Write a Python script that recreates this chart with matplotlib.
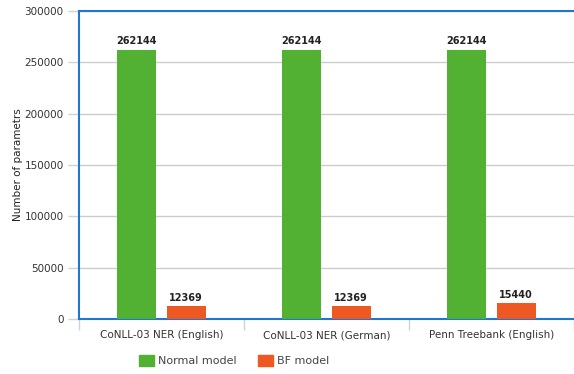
import numpy as np
import matplotlib.pyplot as plt
from matplotlib.patches import Patch

datasets = ["CoNLL-03 NER (English)", "CoNLL-03 NER (German)", "Penn Treebank (English)"]
normal_model = [262144, 262144, 262144]
bf_model = [12369, 12369, 15440]
yticks = [0, 50000, 100000, 150000, 200000, 250000, 300000]

green = "#52b133"
orange = "#ee5823"
axis_blue = "#1f77d0"

fig = plt.figure(figsize=(5.74, 3.74), dpi=100)
ax = fig.add_axes([0.1376, 0.147, 0.8624, 0.8236])

x = np.arange(len(datasets))
w = 0.237
off = 0.15
ax.bar(x - off, normal_model, width=w, color=green, zorder=3)
ax.bar(x + off, bf_model, width=w, color=orange, zorder=3)

for xi, v in zip(x - off, normal_model):
    ax.text(xi, v + 3500, str(v), ha="center", va="bottom", fontsize=7,
            fontweight="bold", color="#222222")
for xi, v in zip(x + off, bf_model):
    ax.text(xi, v + 3500, str(v), ha="center", va="bottom", fontsize=7,
            fontweight="bold", color="#222222")

ax.set_xlim(-0.5, 2.5)
ax.set_ylim(0, 300000)
ax.set_yticks(yticks)
ax.set_yticklabels([str(t) for t in yticks], fontsize=7.5, color="#333333")
ax.tick_params(axis="y", length=8, color="#c8d4e0", width=1, pad=3)

ax.set_xticks(x)
ax.set_xticklabels(datasets, fontsize=7.5, color="#333333")
ax.tick_params(axis="x", which="major", length=0, pad=8)
ax.set_xticks([-0.5, 0.5, 1.5, 2.5], minor=True)
ax.tick_params(axis="x", which="minor", length=8, color="#c8d4e0", width=1)

ax.yaxis.grid(True, color="#cccccc", linewidth=1, zorder=0)
ax.set_axisbelow(True)

for side in ["left", "top", "bottom"]:
    ax.spines[side].set_color(axis_blue)
    ax.spines[side].set_linewidth(1.5)
ax.spines["right"].set_visible(False)

ax.set_ylabel("Number of parametrs", fontsize=7.5, color="#222222", labelpad=1)

handles = [Patch(color=green, label="Normal model"), Patch(color=orange, label="BF model")]
fig.legend(handles=handles, loc="center", bbox_to_anchor=(0.408, 0.035), ncol=2,
           frameon=False, fontsize=8, handlelength=1.4, handleheight=1.1,
           handletextpad=0.35, columnspacing=1.9, labelcolor="#444444")

fig.savefig("out.png", dpi=100)
